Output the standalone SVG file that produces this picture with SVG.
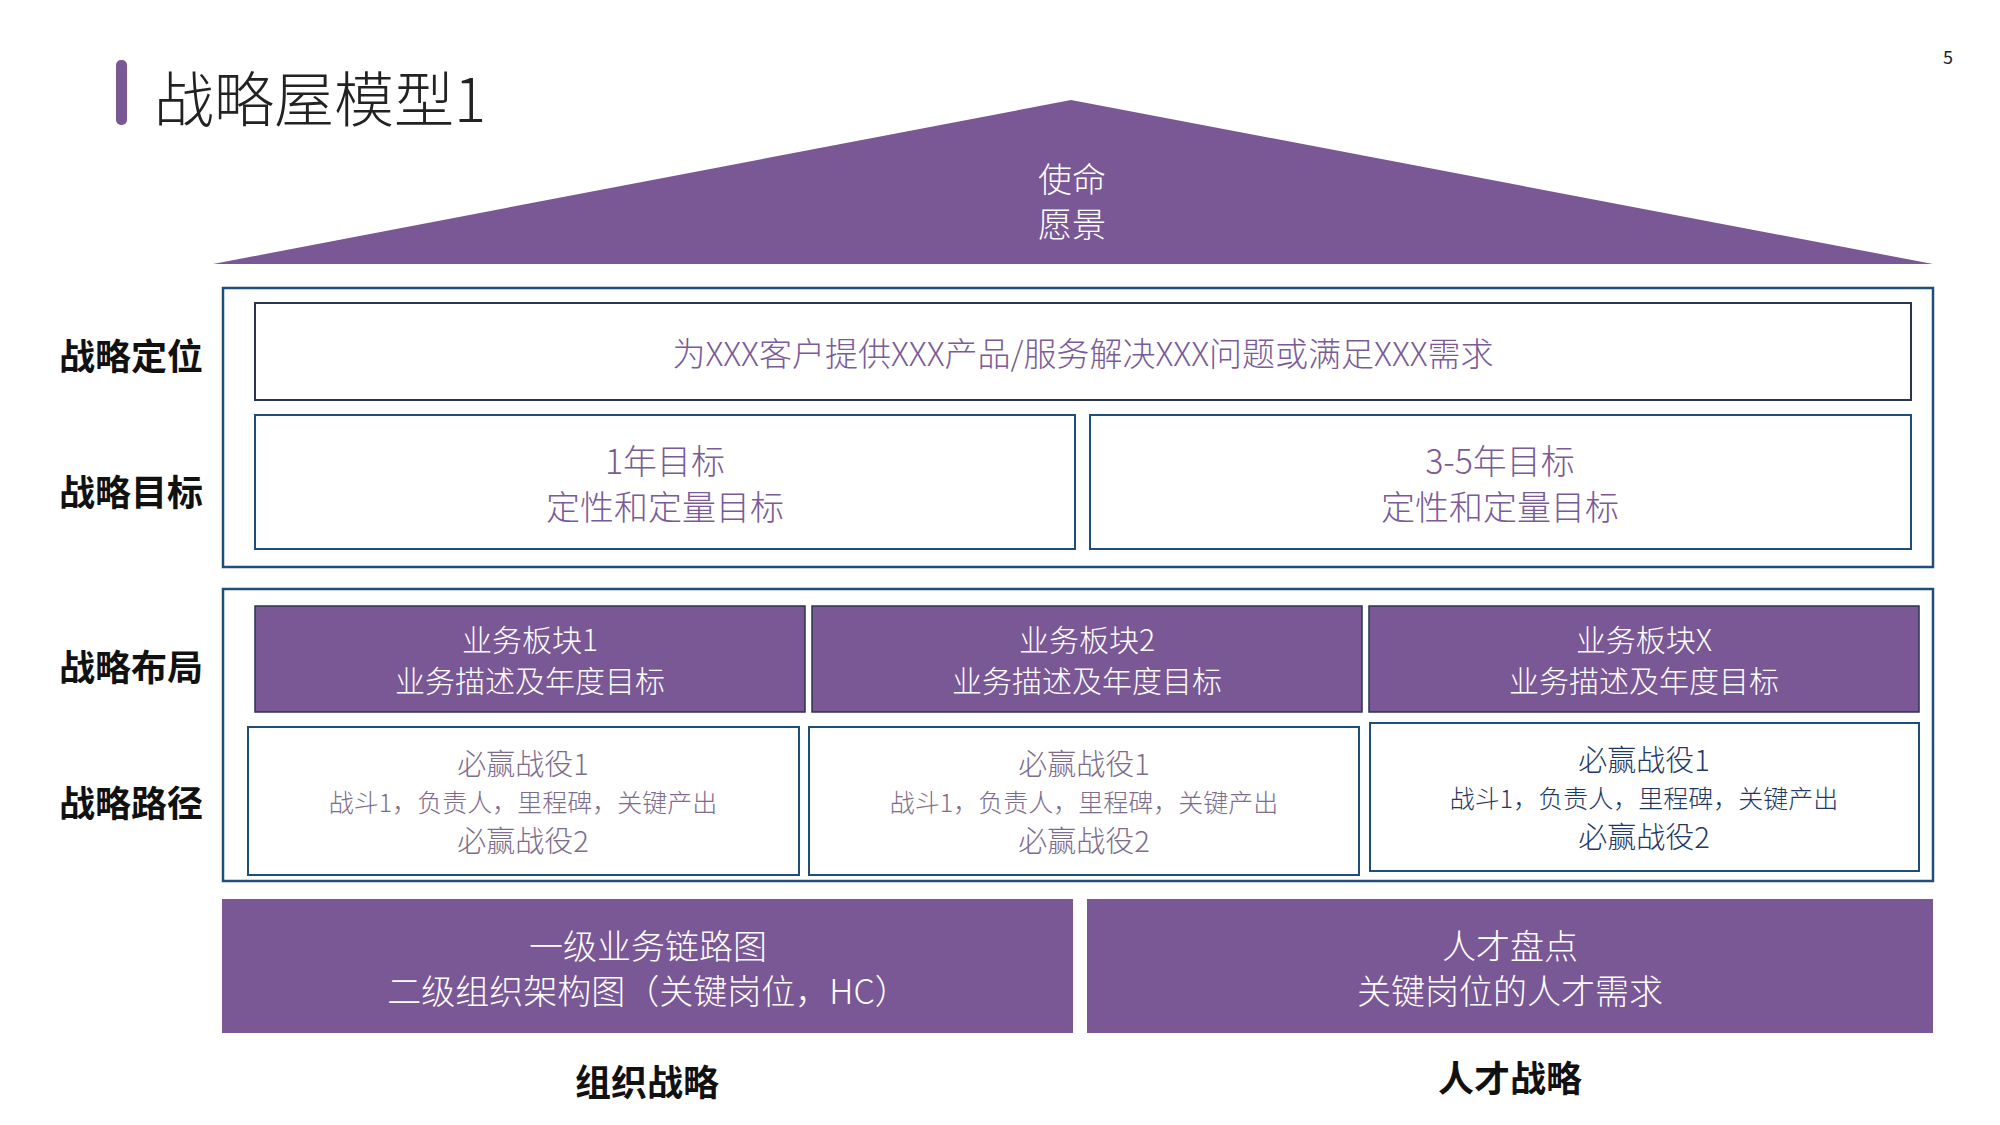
<svg xmlns="http://www.w3.org/2000/svg" width="2000" height="1125" viewBox="0 0 2000 1125">
<style>
text{font-family:"Noto Sans CJK SC","Liberation Sans",sans-serif;text-anchor:middle}
.lbl{font-size:36px;font-weight:bold;fill:#111}
.w{fill:#fff;font-weight:300}
.p{fill:#7a5a98;font-weight:300}
.g{fill:#7d6c8c;font-weight:300}
.n{fill:#1f3864;font-weight:300}
.outer{fill:none;stroke:#1f4e79;stroke-width:2.5}
.inner{fill:#fff;stroke:#2a3550;stroke-width:2}
.pb{fill:#7a5795}
</style>
<rect width="2000" height="1125" fill="#fff"/>
<rect x="116" y="60" width="11" height="65" rx="5" fill="#7a5795"/>
<text x="154" y="122" style="font-size:60px;text-anchor:start;fill:#222;font-weight:300">战略屋模型1</text>
<text x="1948" y="64" style="font-size:18px;fill:#222">5</text>
<g id="roof"><polygon class="pb" points="1071,100 1933,264 213,264"/>
<text class="w" x="1072" y="192" font-size="34">使命</text>
<text class="w" x="1072" y="237" font-size="34">愿景</text></g>
<g id="labels">
<text class="lbl" x="131" y="370">战略定位</text>
<text class="lbl" x="131" y="506">战略目标</text>
<text class="lbl" x="131" y="681">战略布局</text>
<text class="lbl" x="131" y="817">战略路径</text>
<text class="lbl" x="647" y="1096">组织战略</text>
<text class="lbl" x="1510" y="1092">人才战略</text>
</g>
<g id="frame1"><rect class="outer" x="223" y="288" width="1710" height="279"/></g>
<g id="positioning"><rect class="inner" x="255" y="303" width="1656" height="97"/>
<text class="p" x="1083" y="366" font-size="33">为XXX客户提供XXX产品/服务解决XXX问题或满足XXX需求</text></g>
<g id="goal1"><rect class="inner" x="255" y="415" width="820" height="134" style="stroke:#1f4e79"/>
<text class="p" x="665" y="474" font-size="34">1年目标</text>
<text class="p" x="665" y="520" font-size="34">定性和定量目标</text></g>
<g id="goal2"><rect class="inner" x="1090" y="415" width="821" height="134" style="stroke:#1f4e79"/>
<text class="p" x="1500" y="474" font-size="34">3-5年目标</text>
<text class="p" x="1500" y="520" font-size="34">定性和定量目标</text></g>
<g id="frame2"><rect class="outer" x="223" y="589" width="1710" height="292"/></g>
<g id="biz1"><rect class="pb" x="255" y="606" width="550" height="106" stroke="#2a3550" stroke-width="1.5"/>
<text class="w" x="530" y="651" font-size="30">业务板块1</text>
<text class="w" x="530" y="692" font-size="30">业务描述及年度目标</text></g>
<g id="biz2"><rect class="pb" x="812" y="606" width="550" height="106" stroke="#2a3550" stroke-width="1.5"/>
<text class="w" x="1087" y="651" font-size="30">业务板块2</text>
<text class="w" x="1087" y="692" font-size="30">业务描述及年度目标</text></g>
<g id="bizX"><rect class="pb" x="1369" y="606" width="550" height="106" stroke="#2a3550" stroke-width="1.5"/>
<text class="w" x="1644" y="651" font-size="30">业务板块X</text>
<text class="w" x="1644" y="692" font-size="30">业务描述及年度目标</text></g>
<g id="path1"><rect class="inner" x="248" y="727" width="551" height="148" style="stroke:#1f4e79"/>
<text class="g" x="523" y="775" font-size="29">必赢战役1</text>
<text class="g" x="523" y="812" font-size="25">战斗1，负责人，里程碑，关键产出</text>
<text class="g" x="523" y="852" font-size="29">必赢战役2</text></g>
<g id="path2"><rect class="inner" x="809" y="727" width="550" height="148" style="stroke:#1f4e79"/>
<text class="g" x="1084" y="775" font-size="29">必赢战役1</text>
<text class="g" x="1084" y="812" font-size="25">战斗1，负责人，里程碑，关键产出</text>
<text class="g" x="1084" y="852" font-size="29">必赢战役2</text></g>
<g id="pathX"><rect class="inner" x="1370" y="723" width="549" height="148" style="stroke:#1f4e79"/>
<text class="n" x="1644" y="771" font-size="29">必赢战役1</text>
<text class="n" x="1644" y="808" font-size="25">战斗1，负责人，里程碑，关键产出</text>
<text class="n" x="1644" y="848" font-size="29">必赢战役2</text></g>
<g id="org"><rect class="pb" x="222" y="899" width="851" height="134"/>
<text class="w" x="648" y="959" font-size="34">一级业务链路图</text>
<text class="w" x="648" y="1004" font-size="34">二级组织架构图（关键岗位，HC）</text></g>
<g id="talent"><rect class="pb" x="1087" y="899" width="846" height="134"/>
<text class="w" x="1510" y="959" font-size="34">人才盘点</text>
<text class="w" x="1510" y="1004" font-size="34">关键岗位的人才需求</text></g>
<g id="connectors"/>
</svg>
